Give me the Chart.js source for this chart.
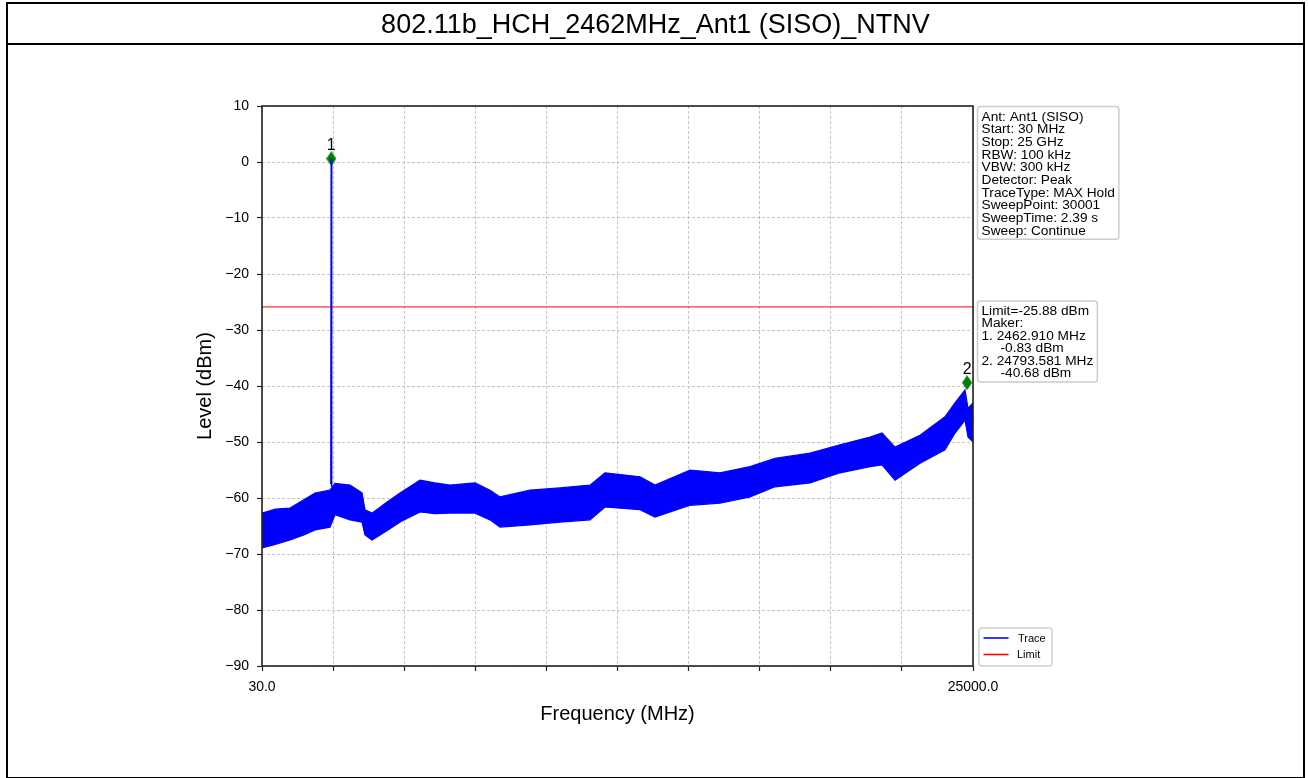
<!DOCTYPE html>
<html lang="en">

<head>
  <meta charset="UTF-8">
  <title>802.11b_HCH_2462MHz_Ant1 (SISO)_NTNV</title>
  <script src="https://cdn.jsdelivr.net/npm/chart.js"></script>
  <style>
    body {
      margin: 0;
      padding: 0;
      background: #fff;
      font-family: "Liberation Sans", Arial, sans-serif;
    }

    #frame {
      position: absolute;
      left: 6px;
      top: 2px;
      width: 1299px;
      height: 777px;
      box-sizing: border-box;
      border: 2px solid #000;
      pointer-events: none;
    }

    #frame h1 {
      margin: 0;
      height: 41px;
      line-height: 41px;
      border-bottom: 2px solid #000;
      box-sizing: border-box;
      text-align: center;
      font-weight: normal;
      font-size: 27px;
      color: #000;
    }

    #wrap {
      position: absolute;
      left: 0;
      top: 0;
      width: 1308px;
      height: 778px;
    }
  </style>
</head>

<body>
  <div id="wrap">
    <canvas id="chart"></canvas>
  </div>
  <div id="frame">
    <h1>802.11b_HCH_2462MHz_Ant1 (SISO)_NTNV</h1>
  </div>
  <script>
    // trace envelope (MHz / dBm)
    const traceFreq = [30, 500, 1013, 1500, 1891, 2418, 2594, 3121, 3542, 3647, 3893, 4400, 4877, 5579, 6100, 6633, 7511, 8038, 8389, 9442, 10496, 11549, 12076, 13305, 13832, 15061, 16115, 17169, 18047, 19276, 20330, 21383, 21804, 22261, 23139, 24017, 24368, 24719, 24825, 25000];
    const traceUpper = [-62.7, -62.0, -61.8, -60.3, -59.1, -58.6, -57.4, -57.7, -59.1, -62.1, -62.7, -60.8, -59.1, -56.8, -57.3, -57.7, -57.3, -58.6, -59.8, -58.6, -58.2, -57.7, -55.5, -56.2, -57.7, -55.0, -55.5, -54.4, -52.9, -52.0, -50.5, -49.1, -48.4, -50.9, -48.8, -45.5, -43.0, -40.7, -44.0, -43.0];
    const traceLower = [-68.9, -68.3, -67.5, -66.6, -65.7, -65.2, -63.0, -63.9, -64.3, -66.6, -67.5, -65.9, -64.3, -62.5, -62.8, -62.7, -62.7, -63.9, -65.2, -64.8, -64.3, -63.9, -61.6, -62.1, -63.4, -61.3, -60.9, -59.8, -58.0, -57.3, -55.5, -54.4, -54.1, -56.8, -53.8, -51.4, -48.4, -46.1, -49.1, -50.0];

    // carrier spike
    const spikeFreq = [2450, 2462.91, 2475];
    const spikeLevel = [-57.5, 0.6, -58.0];

    const limitLevel = -25.88;
    const startFreq = 30;
    const stopFreq = 25000;

    // markers as drawn
    const markerFreq = [2462.910, 24793.581];
    const markerLevel = [0.6, -39.4];
    const markerNames = ['1', '2'];

    const xTickValues = [30, 2527, 5024, 7521, 10018, 12515, 15012, 17509, 20006, 22503, 25000];
    const xTickLabels = ['30.0', '', '', '', '', '', '', '', '', '', '25000.0'];
    const yTickValues = [10, 0, -10, -20, -30, -40, -50, -60, -70, -80, -90];

    const infoLines = ['Ant: Ant1 (SISO)', 'Start: 30 MHz', 'Stop: 25 GHz', 'RBW: 100 kHz', 'VBW: 300 kHz', 'Detector: Peak', 'TraceType: MAX Hold', 'SweepPoint: 30001', 'SweepTime: 2.39 s', 'Sweep: Continue'];
    const limitLines = ['Limit=-25.88 dBm', 'Maker:', '1. 2462.910 MHz', '     -0.83 dBm', '2. 24793.581 MHz', '     -40.68 dBm'];

    const FONT = '"Liberation Sans", Arial, sans-serif';

    // thin green diamond like matplotlib 'd'
    const diamond = document.createElement('canvas');
    diamond.width = 10;
    diamond.height = 15;
    (function () {
      const c = diamond.getContext('2d');
      c.fillStyle = '#008000';
      c.beginPath();
      c.moveTo(5, 0);
      c.lineTo(10, 7.5);
      c.lineTo(5, 15);
      c.lineTo(0, 7.5);
      c.closePath();
      c.fill();
    })();

    const pts = (xs, ys) => xs.map((x, i) => ({ x: x, y: ys[i] }));

    function drawBox(ctx, x, y, lines, lh) {
      ctx.font = '13.7px ' + FONT;
      let w = 0;
      lines.forEach(l => { w = Math.max(w, ctx.measureText(l).width); });
      const bw = w + 8;
      const bh = lines.length * lh + 6;
      ctx.save();
      ctx.fillStyle = 'rgba(255,255,255,0.85)';
      ctx.strokeStyle = '#cccccc';
      ctx.lineWidth = 1.5;
      ctx.beginPath();
      ctx.roundRect(x, y, bw, bh, 3);
      ctx.fill();
      ctx.stroke();
      ctx.fillStyle = '#000';
      ctx.textBaseline = 'middle';
      ctx.textAlign = 'left';
      lines.forEach((l, i) => {
        ctx.fillText(l, x + 4, y + 3 + lh / 2 + i * lh + 1);
      });
      ctx.restore();
    }

    const extras = {
      id: 'extras',
      afterDatasetsDraw(chart) {
        const ctx = chart.ctx;
        const a = chart.chartArea;
        const xs = chart.scales.x;
        const ys = chart.scales.y;

        // spines
        ctx.save();
        ctx.strokeStyle = '#222';
        ctx.lineWidth = 1.6;
        ctx.strokeRect(a.left, a.top, a.right - a.left, a.bottom - a.top);
        ctx.restore();

        // marker numbers
        ctx.save();
        ctx.fillStyle = '#000';
        ctx.font = '16px ' + FONT;
        ctx.textAlign = 'center';
        ctx.textBaseline = 'alphabetic';
        markerNames.forEach((n, i) => {
          ctx.fillText(n, xs.getPixelForValue(markerFreq[i]), ys.getPixelForValue(markerLevel[i]) - 9);
        });
        ctx.restore();

        // info boxes
        drawBox(ctx, a.right + 4.5, a.top + 0.5, infoLines, 12.67);
        drawBox(ctx, a.right + 4.5, ys.getPixelForValue(limitLevel) - 6, limitLines, 12.5);

        // legend
        const lx = a.right + 6, ly = a.bottom - 38;
        ctx.save();
        ctx.fillStyle = '#fff';
        ctx.strokeStyle = '#d0d0d0';
        ctx.lineWidth = 1.5;
        ctx.beginPath();
        ctx.roundRect(lx, ly, 73, 38, 3);
        ctx.fill();
        ctx.stroke();
        ctx.lineWidth = 1.6;
        ctx.strokeStyle = '#0000ff';
        ctx.beginPath();
        ctx.moveTo(lx + 4.5, ly + 10);
        ctx.lineTo(lx + 29.5, ly + 10);
        ctx.stroke();
        ctx.strokeStyle = '#ff0000';
        ctx.beginPath();
        ctx.moveTo(lx + 4.5, ly + 26.5);
        ctx.lineTo(lx + 29.5, ly + 26.5);
        ctx.stroke();
        ctx.fillStyle = '#000';
        ctx.font = '11px ' + FONT;
        ctx.textBaseline = 'middle';
        ctx.fillText('Trace', lx + 39, ly + 10.5);
        ctx.fillText('Limit', lx + 38, ly + 27);
        ctx.restore();
      }
    };

    new Chart(document.getElementById('chart'), {
      type: 'line',
      data: {
        datasets: [
          {
            label: 'Trace',
            data: pts(traceFreq, traceUpper),
            borderColor: '#0000ff',
            backgroundColor: '#0000ff',
            borderWidth: 1.2,
            pointRadius: 0,
            tension: 0,
            fill: '+1'
          },
          {
            label: 'TraceLow',
            data: pts(traceFreq, traceLower),
            borderColor: '#0000ff',
            borderWidth: 1.2,
            pointRadius: 0,
            tension: 0,
            fill: false
          },
          {
            label: 'Spike',
            data: pts(spikeFreq, spikeLevel),
            borderColor: '#0000ff',
            borderWidth: 1.6,
            pointRadius: 0,
            tension: 0,
            fill: false
          },
          {
            label: 'Limit',
            data: pts([startFreq, stopFreq], [limitLevel, limitLevel]),
            borderColor: '#ff0000',
            borderWidth: 1,
            pointRadius: 0,
            fill: false
          },
          {
            label: 'Marker',
            data: pts(markerFreq, markerLevel),
            showLine: false,
            pointStyle: diamond,
            pointRadius: 6,
            clip: false
          }
        ]
      },
      options: {
        responsive: true,
        maintainAspectRatio: false,
        animation: false,
        events: [],
        layout: {
          padding: { left: 180, right: 335, top: 106, bottom: 30 }
        },
        plugins: {
          legend: { display: false },
          tooltip: { enabled: false }
        },
        scales: {
          x: {
            type: 'linear',
            min: startFreq,
            max: stopFreq,
            afterFit: (s) => { s.height = 82; },
            afterBuildTicks: (s) => { s.ticks = xTickValues.map(v => ({ value: v })); },
            grid: {
              color: '#b8b8b8',
              lineWidth: 0.8,
              tickLength: 5,
              tickColor: '#222',
              tickWidth: 1.2,
              tickBorderDash: []
            },
            border: { display: false, dash: [3, 2] },
            ticks: {
              autoSkip: false,
              maxRotation: 0,
              padding: 8,
              color: '#000',
              font: { family: FONT, size: 14 },
              callback: (v, i) => xTickLabels[i]
            },
            title: {
              display: true,
              text: 'Frequency (MHz)',
              color: '#000',
              font: { family: FONT, size: 20 },
              padding: { top: 0, bottom: 22 }
            }
          },
          y: {
            min: -90,
            max: 10,
            afterFit: (s) => { s.width = 82; },
            afterBuildTicks: (s) => { s.ticks = yTickValues.map(v => ({ value: v })); },
            grid: {
              color: '#b8b8b8',
              lineWidth: 0.8,
              tickLength: 5,
              tickColor: '#222',
              tickWidth: 1.2,
              tickBorderDash: []
            },
            border: { display: false, dash: [3, 2] },
            ticks: {
              padding: 8,
              color: '#000',
              font: { family: FONT, size: 14 },
              callback: (v) => v < 0 ? '\u2212' + Math.abs(v) : String(v)
            },
            title: {
              display: true,
              text: 'Level (dBm)',
              color: '#000',
              font: { family: FONT, size: 20 },
              padding: { top: 13, bottom: 0 }
            }
          }
        }
      },
      plugins: [extras]
    });
  </script>
</body>

</html>
